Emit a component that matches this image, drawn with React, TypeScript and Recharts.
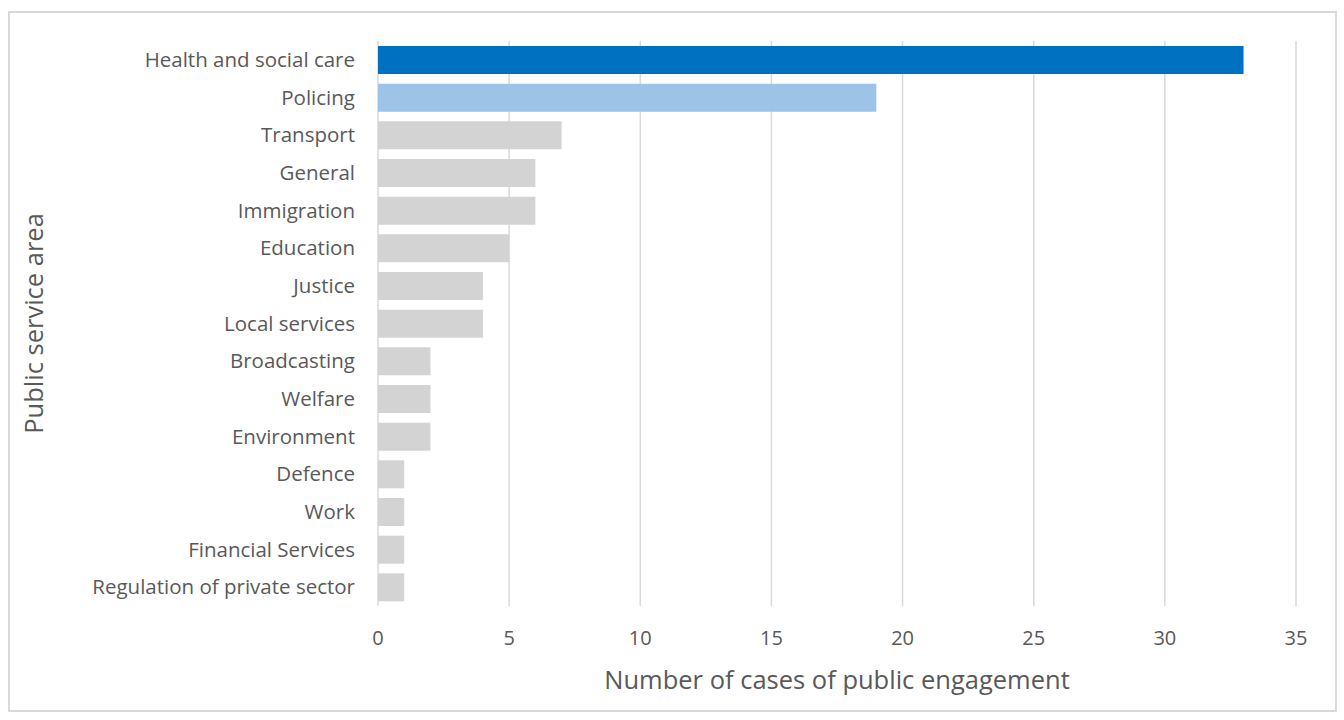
import { BarChart, Bar, XAxis, YAxis, CartesianGrid, Cell } from "recharts";

const areas = [
  "Health and social care",
  "Policing",
  "Transport",
  "General",
  "Immigration",
  "Education",
  "Justice",
  "Local services",
  "Broadcasting",
  "Welfare",
  "Environment",
  "Defence",
  "Work",
  "Financial Services",
  "Regulation of private sector",
];
const cases = [33, 19, 7, 6, 6, 5, 4, 4, 2, 2, 2, 1, 1, 1, 1];
const barColors = ["#0070C0", "#9DC3E6"];
const otherColor = "#D3D3D3";
const xTicks = [0, 5, 10, 15, 20, 25, 30, 35];

const data = areas.map((area, i) => ({ area, cases: cases[i] }));

const FONT = "'Open Sans', sans-serif";
const TEXT = "#595959";

function YTitle(props: any) {
  const { viewBox } = props;
  const cx = 23;
  const cy = viewBox.y + viewBox.height / 2;
  return (
    <text
      x={cx}
      y={cy}
      transform={`rotate(-90, ${cx}, ${cy})`}
      textAnchor="middle"
      dominantBaseline="central"
      fill={TEXT}
      fontSize={25.5}
      fontFamily={FONT}
    >
      Public service area
    </text>
  );
}

function XTitle(props: any) {
  const { viewBox } = props;
  const cx = viewBox.x + viewBox.width / 2;
  return (
    <text
      x={cx}
      y={666}
      textAnchor="middle"
      dominantBaseline="central"
      fill={TEXT}
      fontSize={25.5}
      fontFamily={FONT}
    >
      Number of cases of public engagement
    </text>
  );
}

export default function App() {
  return (
    <div
      style={{
        position: "absolute",
        left: 8,
        top: 11,
        width: 1325,
        height: 697,
        border: "2px solid #D9D9D9",
        background: "#fff",
      }}
    >
      <BarChart
        width={1325}
        height={697}
        data={data}
        layout="vertical"
        margin={{ top: 28, right: 39, bottom: 74, left: 0 }}
        barSize={28}
      >
        <CartesianGrid horizontal={false} stroke="#D9D9D9" strokeWidth={1.5} />
        <XAxis
          type="number"
          domain={[0, 35]}
          ticks={xTicks}
          height={30}
          axisLine={false}
          tickLine={false}
          tickSize={0}
          tickMargin={25}
          tick={{ fill: TEXT, fontSize: 20, fontFamily: FONT }}
          label={<XTitle />}
        />
        <YAxis
          type="category"
          dataKey="area"
          width={368}
          axisLine={false}
          tickLine={false}
          tickSize={0}
          tickMargin={23}
          interval={0}
          tick={{ fill: TEXT, fontSize: 20.5, fontFamily: FONT }}
          label={<YTitle />}
        />
        <Bar dataKey="cases" isAnimationActive={false}>
          {data.map((d, i) => (
            <Cell key={d.area} fill={barColors[i] ?? otherColor} />
          ))}
        </Bar>
      </BarChart>
    </div>
  );
}
